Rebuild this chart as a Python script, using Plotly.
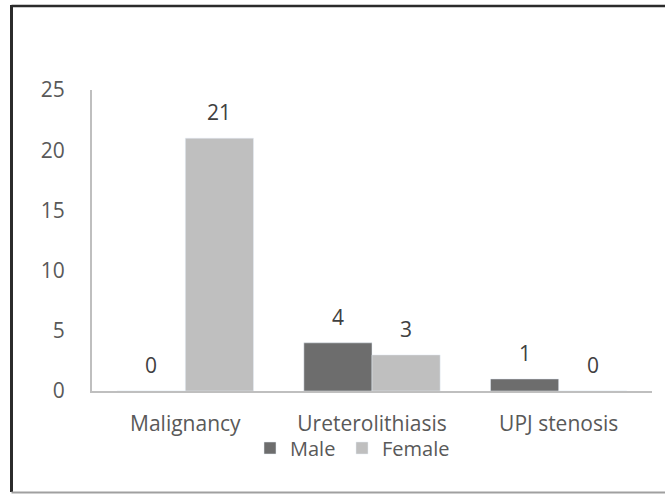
import plotly.graph_objects as go

categories = ["Malignancy", "Ureterolithiasis", "UPJ stenosis"]
male = [0, 4, 1]
female = [21, 3, 0]
y_ticks = [0, 5, 10, 15, 20, 25]

W, H = 665, 494
L, R, T, B = 92, 13, 90, 103
pw, ph = W - L - R, H - T - B

def px_x(x):
    return (x - L) / pw

def px_y(y):
    return (H - B - y) / ph

FONT = "Open Sans"
FS = 21
fig = go.Figure()
fig.add_trace(go.Bar(name="Male", x=categories, y=male, marker_color="#6d6d6d", legend="legend"))
fig.add_trace(go.Bar(name="Female", x=categories, y=female, marker_color="#bfbfbf", legend="legend2"))

half = pw / len(categories) * (1 - 0.27) / 4
for vals, sh in ((male, -half), (female, half)):
    for c, v in zip(categories, vals):
        fig.add_annotation(x=c, y=v, text=str(v), showarrow=False, xshift=sh, yshift=26,
                           font=dict(family=FONT, size=21, color="#404040"))

shapes = [
    dict(type="line", xref="paper", yref="paper", x0=px_x(11.5), x1=px_x(665), y0=px_y(6), y1=px_y(6),
         line=dict(color="#2b2b2b", width=2.5)),
    dict(type="line", xref="paper", yref="paper", x0=px_x(11.5), x1=px_x(11.5), y0=px_y(5), y1=px_y(492),
         line=dict(color="#2b2b2b", width=3)),
    dict(type="line", xref="paper", yref="paper", x0=px_x(11.5), x1=px_x(665), y0=px_y(492.5), y1=px_y(492.5),
         line=dict(color="#a0a0a0", width=2)),
]

leg_common = dict(orientation="h", xanchor="left", yanchor="middle", y=px_y(448),
                  font=dict(family=FONT, size=20, color="#595959"), itemwidth=30,
                  bgcolor="rgba(0,0,0,0)")

fig.update_layout(
    width=W, height=H, margin=dict(l=L, r=R, t=T, b=B),
    paper_bgcolor="white", plot_bgcolor="white",
    barmode="group", bargap=0.27, bargroupgap=0,
    showlegend=True,
    legend=dict(x=px_x(250), **leg_common),
    legend2=dict(x=px_x(342), **leg_common),
    font=dict(family=FONT, size=FS, color="#595959"),
    shapes=shapes,
    xaxis=dict(showline=True, linecolor="#bfbfbf", linewidth=2, showgrid=False, ticks="",
               ticklabelstandoff=13,
               tickfont=dict(family=FONT, size=FS, color="#595959")),
    yaxis=dict(range=[0, 25], tickvals=y_ticks, showline=True, linecolor="#bfbfbf", linewidth=2,
               showgrid=False, zeroline=False, ticks="", ticklabelstandoff=21,
               tickfont=dict(family=FONT, size=21, color="#595959")),
)
fig.write_html("out.html", post_script="document.body.style.margin='0';",
               config={"displayModeBar": False})
